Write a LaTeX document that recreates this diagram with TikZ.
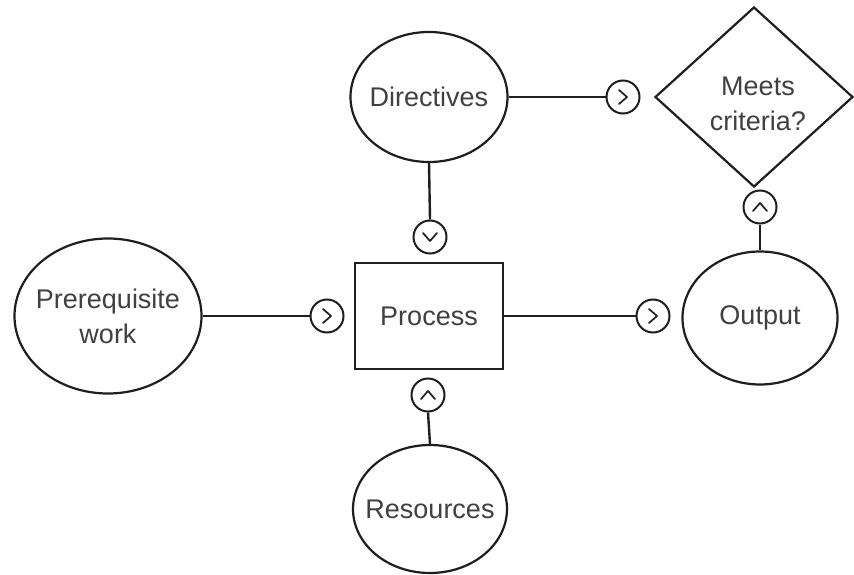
\documentclass[tikz,border=0pt]{standalone}
\usepackage{fontspec}
\setmainfont{Liberation Sans}
\usetikzlibrary{shapes.geometric}
\definecolor{txt}{HTML}{404040}
\definecolor{ln}{HTML}{1e1e1e}
\begin{document}
\begin{tikzpicture}[x=1pt,y=-1pt,
  every node/.style={font=\fontsize{27}{35}\selectfont, text=txt},
  shp/.style={draw=ln, line width=2.2pt, fill=white, inner sep=0pt},
  oval/.style={shp, ellipse},
  conn/.style={draw=ln, line width=2.4pt},
  port/.style={shp, circle, minimum size=33pt, line width=2pt},
  chev/.style={draw=ln, line width=1.7pt, line join=round, line cap=round},
  portR/.style={port, path picture={\draw[chev] ([shift={(-4,-7)}]path picture bounding box.center) -- ++(8,7) -- ++(-8,7);}},
  portU/.style={port, path picture={\draw[chev] ([shift={(-7,4)}]path picture bounding box.center) -- ++(7,-8) -- ++(7,8);}},
  portD/.style={port, path picture={\draw[chev] ([shift={(-7,-4)}]path picture bounding box.center) -- ++(7,8) -- ++(7,-8);}}
]
\useasboundingbox (0,0) rectangle (854,575);
% main shapes
\node[oval, minimum width=157pt, minimum height=130pt, label={center:Directives}] (dir) at (429,97) {};
\node[shp, diamond, minimum width=198pt, minimum height=180pt] (crit) at (754,97) {};
\node[align=center] (critt) at (758,104) {Meets\\criteria?};
\node[shp, rectangle, minimum width=148pt, minimum height=106pt] (proc) at (429,316) {Process};
\node[oval, minimum width=187pt, minimum height=155pt, label={[align=center]center:{Prerequisite\\work}}] (pre) at (108,316) {};
\node[oval, minimum width=155pt, minimum height=133pt, label={center:Output}] (out) at (760,318) {};
\node[oval, minimum width=154pt, minimum height=128pt, label={center:Resources}] (res) at (430,509) {};
% ports
\node[portR] (pdir) at (623,97) {};
\node[portU] (pcrit) at (760,207) {};
\node[portD] (ptop) at (430,237) {};
\node[portR] (pleft) at (327,316) {};
\node[portR] (pout) at (653,316) {};
\node[portU] (pbot) at (428,395) {};
% connectors
\draw[conn] (dir.east) -- (pdir.west);
\draw[conn] (out.north) -- (pcrit.south);
\draw[conn] (dir.south) -- (ptop.north);
\draw[conn] (pre.east) -- (pleft.west);
\draw[conn] (proc.east) -- (pout.west);
\draw[conn] (res.north) -- (pbot.south);
\end{tikzpicture}
\end{document}
